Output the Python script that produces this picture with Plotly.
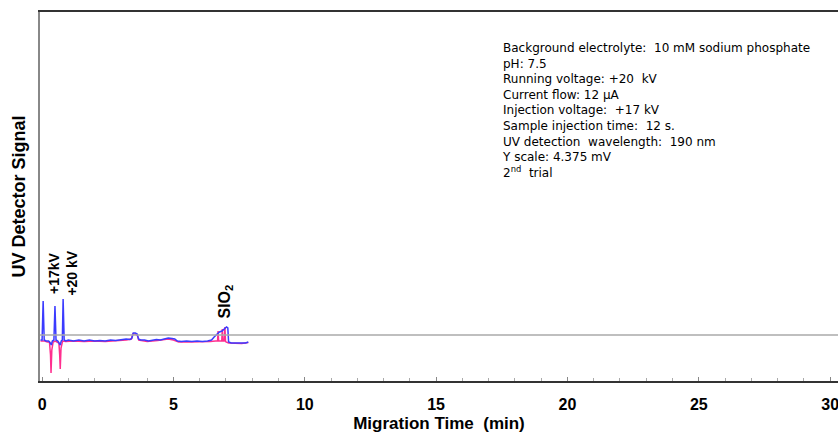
import plotly.graph_objects as go

# ---- data (signal in arbitrary units) ----
blue_t = [-0.06, 0.00, 0.04, 0.08, 0.15, 0.25, 0.31, 0.35, 0.39, 0.45, 0.49, 0.53, 0.60, 0.66,
          0.69, 0.73, 0.77, 0.80, 0.84, 0.90, 1.00, 1.20, 1.40, 1.60, 1.80, 2.00, 2.20, 2.40,
          2.60, 2.80, 3.00, 3.20, 3.35, 3.42, 3.47, 3.55, 3.62, 3.67, 3.75, 3.90, 4.05, 4.20,
          4.35, 4.50, 4.65, 4.80, 4.95, 5.05, 5.15, 5.30, 5.50, 5.70, 5.90, 6.10, 6.30, 6.45,
          6.55, 6.65, 6.75, 6.85, 6.95, 7.02, 7.07, 7.10, 7.20, 7.40, 7.60, 7.75, 7.85]
blue_y = [0.0, 0.0, 3.9, 0.0, -0.1, -0.1, -0.3, -0.5, -0.1, 0.0, 3.4, 0.0, -0.1, -0.3,
          -0.5, -0.1, 0.0, 4.1, 0.0, -0.1, 0.0, -0.1, 0.0, -0.1, 0.0, -0.1, -0.05, -0.1,
          0.0, -0.05, 0.05, 0.1, 0.05, 0.2, 0.7, 0.7, 0.6, 0.1, 0.0, 0.0, -0.1, 0.0,
          0.05, 0.0, 0.1, 0.2, 0.15, 0.1, -0.1, -0.15, -0.1, -0.15, -0.1, -0.15, -0.1, 0.0,
          0.3, 0.6, 0.8, 0.9, 1.2, 1.3, 1.2, -0.2, -0.3, -0.3, -0.35, -0.3, -0.2]

pink_t = [-0.06, 0.00, 0.10, 0.20, 0.28, 0.32, 0.34, 0.37, 0.42, 0.50, 0.58, 0.64, 0.67,
          0.69, 0.72, 0.78, 0.90, 1.20, 1.60, 2.00, 2.40, 2.80, 3.20, 3.40, 3.45, 3.55, 3.62,
          3.68, 4.00, 4.40, 4.80, 5.00, 5.20, 5.60, 6.00, 6.40, 6.60, 6.68, 6.70, 6.72, 6.80,
          6.84, 6.86, 6.88, 6.93, 6.96, 6.98, 7.00, 7.10, 7.30, 7.60, 7.85]
pink_y = [-0.1, -0.1, -0.1, -0.2, -0.2, -1.5, -3.3, -1.0, -0.2, -0.1, -0.2, -0.3, -1.5,
          -2.9, -0.8, -0.1, -0.15, -0.1, -0.15, -0.1, -0.15, -0.1, 0.0, 0.1, 0.6, 0.6, 0.5,
          0.0, -0.15, -0.05, 0.1, 0.0, -0.2, -0.2, -0.2, -0.15, -0.1, -0.1, 0.9, -0.1, -0.1,
          -0.1, 1.1, -0.1, -0.1, 1.3, -0.1, -0.2, -0.3, -0.35, -0.35, -0.25]

REF_LEVEL = 0.5          # grey reference line
Y_RANGE = [-4.1, 32.8]
X_RANGE = [-0.08, 30.3]
x_tick_vals = [0, 5, 10, 15, 20, 25, 30]
x_tick_text = ["0", "5", "10", "15", "20", "25", "30"]

conditions = [
    "Background electrolyte:  10 mM sodium phosphate",
    "pH: 7.5",
    "Running voltage: +20  kV",
    "Current flow: 12 \u00b5A",
    "Injection voltage:  +17 kV",
    "Sample injection time:  12 s.",
    "UV detection  wavelength:  190 nm",
    "Y scale: 4.375 mV",
    "2<sup>nd</sup>  trial",
]

FONT = "Arial, 'Liberation Sans', sans-serif"
TEXT_FONT = "'DejaVu Sans', Arial, sans-serif"

fig = go.Figure()
fig.add_trace(go.Scatter(x=pink_t, y=pink_y, mode="lines",
                         line=dict(color="#ff2f8f", width=1.5), showlegend=False))
fig.add_trace(go.Scatter(x=blue_t, y=blue_y, mode="lines",
                         line=dict(color="#3b3bff", width=1.5), showlegend=False))

fig.add_hline(y=REF_LEVEL, line=dict(color="#aaaaaa", width=1.5))

fig.add_annotation(x=0.49, y=3.4, xref="x", yref="y", text="<b>+17kV</b>", textangle=-90,
                   showarrow=False, xanchor="center", yanchor="bottom", xshift=-1, yshift=10,
                   font=dict(family=FONT, size=14, color="black"))
fig.add_annotation(x=0.80, y=4.1, xref="x", yref="y", text="<b>+20 kV</b>", textangle=-90,
                   showarrow=False, xanchor="center", yanchor="bottom", xshift=8, yshift=1,
                   font=dict(family=FONT, size=14, color="black"))
fig.add_annotation(x=7.02, y=1.3, xref="x", yref="y", text="<b>SIO<sub>2</sub></b>",
                   textangle=-90, showarrow=False, yanchor="bottom", yshift=6, xshift=-2,
                   font=dict(family=FONT, size=16, color="black"))

fig.add_annotation(x=0.577, y=0.928, xref="paper", yref="paper",
                   text="<br>".join(conditions), align="left",
                   xanchor="left", yanchor="top", showarrow=False,
                   font=dict(family=TEXT_FONT, size=12, color="black"))

fig.update_layout(
    width=838, height=436,
    margin=dict(l=40, r=0, t=12, b=55),
    paper_bgcolor="white", plot_bgcolor="white",
    font=dict(family=FONT, color="black"),
    xaxis=dict(range=X_RANGE, tickvals=x_tick_vals, ticktext=x_tick_text,
               showgrid=False, zeroline=False,
               showline=True, linecolor="#333333", linewidth=2, mirror=True,
               ticks="inside", ticklen=4, tickcolor="#888888",
               minor=dict(dtick=1, ticks="inside", ticklen=3, tickcolor="#aaaaaa"),
               ticklabelstandoff=8, ticklabeloverflow="allow",
               tickfont=dict(family=FONT, size=16, color="black", weight="bold"),
               title=dict(text="<b>Migration Time  (min)</b>", standoff=5,
                          font=dict(family=FONT, size=17, color="black"))),
    yaxis=dict(range=Y_RANGE, showticklabels=False, showgrid=False, zeroline=False,
               showline=True, linecolor="#888888", linewidth=2, ticks="",
               title=dict(text="<b>UV Detector Signal</b>", standoff=8,
                          font=dict(family=FONT, size=18, color="black"))),
)

fig.write_html("out.html")
